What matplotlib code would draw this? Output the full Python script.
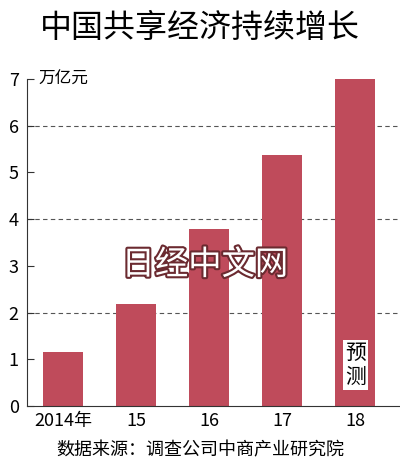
import matplotlib
matplotlib.use('Agg')
import matplotlib.pyplot as plt
import matplotlib.patheffects as pe

plt.rcParams['font.family'] = ['Noto Sans CJK SC', 'DejaVu Sans']

years = ['2014年', '15', '16', '17', '18']
values = [1.16, 2.18, 3.79, 5.37, 7.0]
yticks = [0, 1, 2, 3, 4, 5, 6, 7]
grid_levels = [2, 4, 6]

bar_color = '#bf4b5b'

fig = plt.figure(figsize=(4.0, 4.67), dpi=100)
ax = fig.add_axes([27/400, 1 - 406/467, 373/400, (406-79)/467])

x = list(range(len(years)))
ax.bar(x, values, width=0.55, color=bar_color, zorder=2)

for g in grid_levels:
    ax.axhline(g, color='#555555', lw=0.8, ls=(0, (4, 3)), zorder=1)

ax.set_xlim(-0.49, 4.61)
ax.set_ylim(0, 7)
ax.set_yticks(yticks)
ax.set_yticklabels([str(t) for t in yticks], fontsize=13)
ax.set_xticks(x)
ax.set_xticklabels(years, fontsize=13)
ax.tick_params(axis='y', direction='in', length=5, width=0.8, pad=6, color='#333333')
ax.tick_params(axis='x', length=0, pad=4)
for s in ['top', 'right']:
    ax.spines[s].set_visible(False)
ax.spines['left'].set_color('#333333')
ax.spines['bottom'].set_color('#333333')

ax.text(0.03, 7.0, '万亿元', fontsize=12, va='center', ha='left', transform=ax.get_yaxis_transform())

fig.text(0.5, 1 - 28/467, '中国共享经济持续增长', fontsize=23, ha='center', va='center', fontweight='medium')
fig.text(0.5, 1 - 450/467, '数据来源：调查公司中商产业研究院', fontsize=13, ha='center', va='center')

ax.text(4, 0.88, '预\n测', fontsize=15, ha='center', va='center', linespacing=1.15,
        bbox=dict(facecolor='white', edgecolor='none', pad=1.5), zorder=3)

fig.text(205/400, 1 - 265/467, '日经中文网', fontsize=24, ha='center', va='center',
         color='white',
         path_effects=[pe.withStroke(linewidth=3, foreground='#6b2a30')], zorder=5)

fig.savefig('out.png', dpi=100, facecolor='white')
